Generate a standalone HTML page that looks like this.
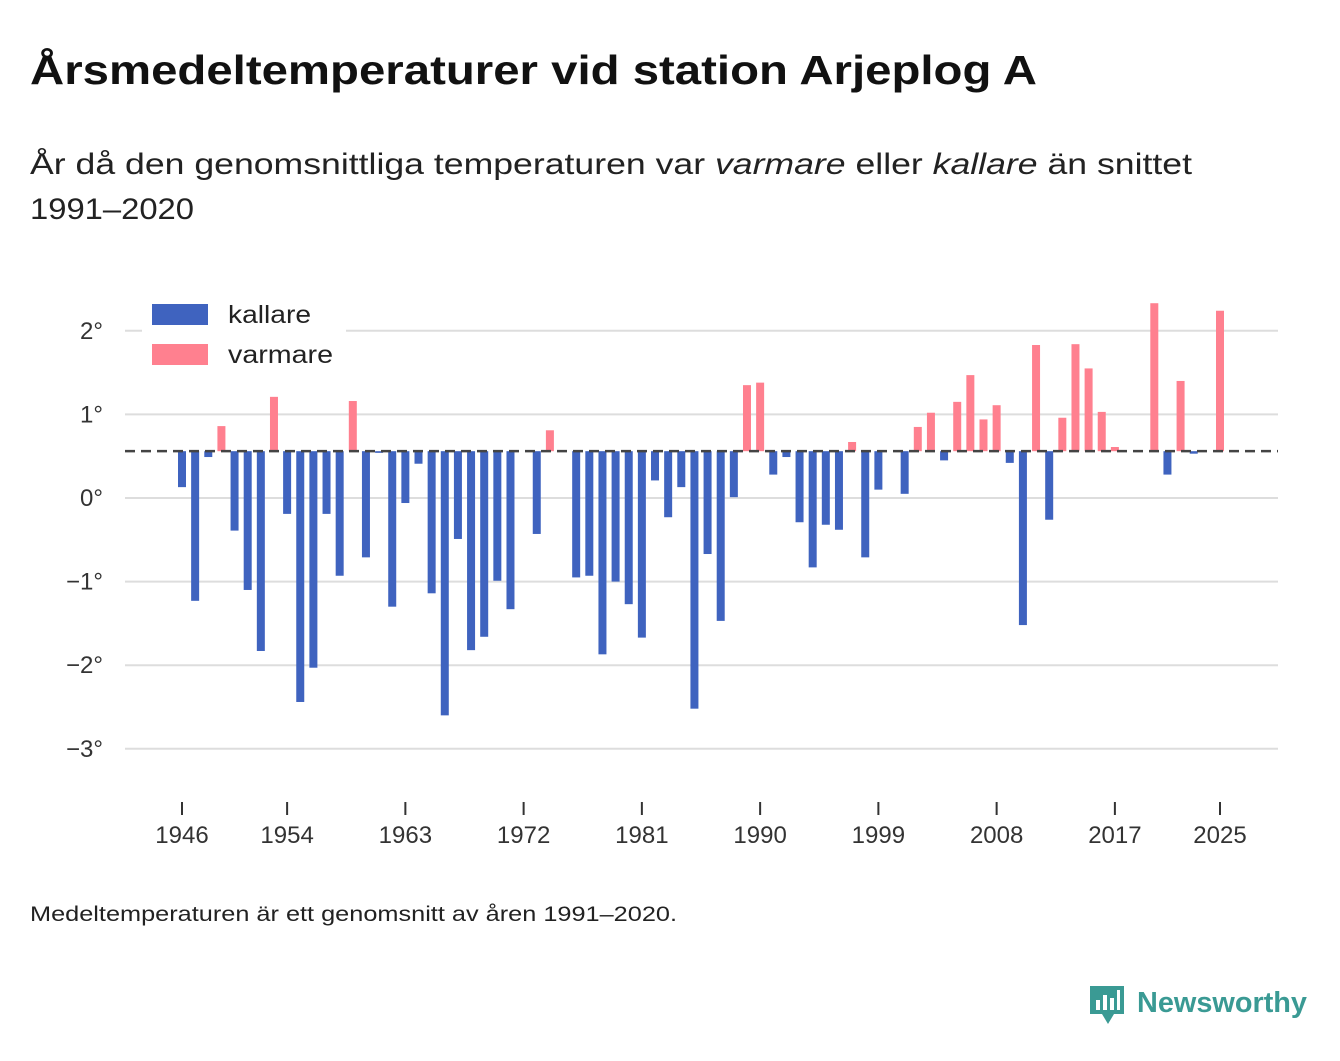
<!DOCTYPE html>
<html><head><meta charset="utf-8"><style>
body{margin:0;background:#fff;font-family:"Liberation Sans","DejaVu Sans",sans-serif;}
</style></head><body>
<svg width="1340" height="1056" xmlns="http://www.w3.org/2000/svg" style="font-family:'Liberation Sans','DejaVu Sans',sans-serif">
<text x="30" y="84" font-size="41" font-weight="bold" fill="#111" textLength="1007" lengthAdjust="spacingAndGlyphs">Årsmedeltemperaturer vid station Arjeplog A</text>
<text x="30" y="174" font-size="30" fill="#222" textLength="1162" lengthAdjust="spacingAndGlyphs">År då den genomsnittliga temperaturen var <tspan font-style="italic">varmare</tspan> eller <tspan font-style="italic">kallare</tspan> än snittet</text>
<text x="30" y="219" font-size="30" fill="#222" textLength="164" lengthAdjust="spacingAndGlyphs">1991–2020</text>
<g id="grid"></g>
<g id="bars"></g>
<g id="xaxis"></g>
<rect x="142" y="296" width="204" height="78" fill="#fff"/>
<rect x="152" y="304" width="56" height="21" fill="#3f63bf"/>
<text x="228" y="323" font-size="25" fill="#222" textLength="83" lengthAdjust="spacingAndGlyphs">kallare</text>
<rect x="152" y="344" width="56" height="21" fill="#ff808f"/>
<text x="228" y="363" font-size="25" fill="#222" textLength="105" lengthAdjust="spacingAndGlyphs">varmare</text>
<text x="30" y="921" font-size="21" fill="#222" textLength="647" lengthAdjust="spacingAndGlyphs">Medeltemperaturen är ett genomsnitt av åren 1991–2020.</text>
<g>
<path d="M1090 986 h34 v28 h-10 l-6 10 l-6 -10 h-12 z" fill="#3a9a94"/>
<rect x="1096" y="1000" width="4" height="10" fill="#fff"/><rect x="1103" y="995" width="4" height="15" fill="#fff"/><rect x="1110" y="998" width="4" height="12" fill="#fff"/><rect x="1117" y="990" width="3" height="20" fill="#fff"/>
<text x="1137" y="1012" font-size="29" font-weight="bold" fill="#3a9a94" textLength="170" lengthAdjust="spacingAndGlyphs">Newsworthy</text>
</g>
<script>
const years=[];for(let y=1946;y<=2025;y++)years.push(y);
const temps=[0.13,-1.23,0.49,0.86,-0.39,-1.10,-1.83,1.21,-0.19,-2.44,-2.03,-0.19,-0.93,1.16,-0.71,0.54,-1.30,-0.06,0.41,-1.14,-2.60,-0.49,-1.82,-1.66,-0.99,-1.33,null,-0.43,0.81,null,-0.95,-0.93,-1.87,-1.00,-1.27,-1.67,0.21,-0.23,0.13,-2.52,-0.67,-1.47,0.01,1.35,1.38,0.28,0.49,-0.29,-0.83,-0.32,-0.38,0.67,-0.71,0.10,null,0.05,0.85,1.02,0.45,1.15,1.47,0.94,1.11,0.42,-1.52,1.83,-0.26,0.96,1.84,1.55,1.03,0.61,null,null,2.33,0.28,1.40,0.53,null,2.24];
const average=0.56;
const yTicks=[2,1,0,-1,-2,-3];
const yTickLabels=["2°","1°","0°","−1°","−2°","−3°"];
const xTicks=[1946,1954,1963,1972,1981,1990,1999,2008,2017,2025];
const NS="http://www.w3.org/2000/svg";
const yS=v=>498-v*83.6;
const xS=yr=>182+(yr-1946)*(1220-182)/79;
function mk(tag,attrs,parent){const e=document.createElementNS(NS,tag);for(const k in attrs)e.setAttribute(k,attrs[k]);document.getElementById(parent).appendChild(e);return e;}
yTicks.forEach((t,i)=>{
 const l=mk('line',{x1:125,x2:1278,y1:yS(t),y2:yS(t),stroke:'#ddd','stroke-width':2},'grid');
 
 
 const tx=mk('text',{x:103,y:yS(t)+8,'font-size':24,fill:'#333','text-anchor':'end'},'grid');
 tx.textContent=yTickLabels[i];
 
 
});
years.forEach((yr,i)=>{
 const v=temps[i];if(v===null)return;
 const y0=yS(average),y1=yS(v);
 const r=mk('rect',{x:xS(yr)-4,y:Math.min(y0,y1),width:8,height:Math.abs(y1-y0),fill:v>=average?'#ff808f':'#3f63bf'},'bars');
 
 
});
const d=mk('line',{x1:125,x2:1278,y1:yS(average),y2:yS(average),stroke:'#444','stroke-width':2.5,'stroke-dasharray':'10 6'},'bars');


xTicks.forEach(yr=>{
 const l=mk('line',{x1:xS(yr),x2:xS(yr),y1:802,y2:815,stroke:'#333','stroke-width':2},'xaxis');
 
 
 const t=mk('text',{x:xS(yr),y:843,'font-size':24,fill:'#333','text-anchor':'middle'},'xaxis');
 t.textContent=yr;
 
 
});
</script>
</svg>
</body></html>
